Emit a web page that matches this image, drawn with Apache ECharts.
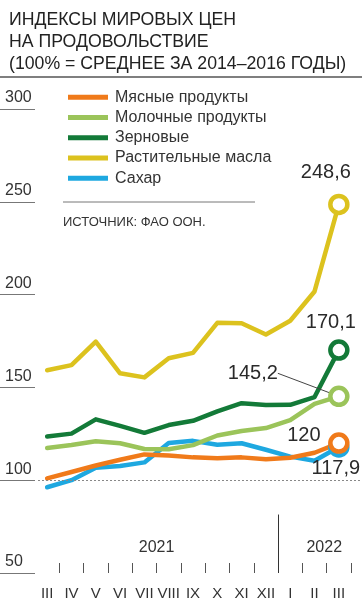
<!DOCTYPE html>
<html>
<head>
<meta charset="utf-8">
<script src="https://cdn.jsdelivr.net/npm/echarts@6/dist/echarts.min.js"></script>
<style>
html,body{margin:0;padding:0;background:#fff;}
#c{width:362px;height:604px;}
</style>
</head>
<body>
<div id="c"></div>
<script>
// ---- data ----
const months = ['III','IV','V','VI','VII','VIII','IX','X','XI','XII','I','II','III'];
const seriesNames = ['Мясные продукты','Молочные продукты','Зерновые','Растительные масла','Сахар'];
const meat    = [101.0,104.4,107.9,111.0,113.9,113.3,112.3,111.8,112.3,111.3,112.1,114.8,120.0];
const dairy   = [117.4,119.0,121.0,119.9,116.8,116.7,118.9,124.1,126.5,128.1,132.4,141.1,145.2];
const cereals = [123.6,125.1,132.8,129.3,125.5,129.7,132.0,137.1,141.5,140.5,140.6,144.8,170.1];
const oils    = [159.2,162.0,174.7,157.6,155.4,165.7,168.6,184.8,184.6,178.5,185.9,201.7,248.6];
const sugar   = [96.2,100.0,106.7,107.7,109.6,120.1,121.2,119.1,119.9,116.4,112.7,110.5,117.9];
const endLabels = ['120','145,2','170,1','248,6','117,9'];
const yearLabels = ['2021','2022'];
const yearPos = [5, 11.9];      // position along month scale
const yearDivider = 10;         // boundary between XII and I

const F = "'Liberation Sans', Arial, sans-serif";
const colors = ['#f07a1a','#9bc45a','#137a38','#dcc21e','#1ea8e0'];
const values = [meat,dairy,cereals,oils,sugar];
const labelOffsets = [[-35,-8],[0,0],[-8,-28],[-13,-32],[-3,22]];

function mkSeries(i){
  const arr = values[i];
  const last = arr.length-1;
  const data = arr.map((v,k)=>{
    if(k!==last) return v;
    return {
      value:v, symbol:'circle', symbolSize:17,
      itemStyle:{color:'#fff', borderColor:colors[i], borderWidth:4.5},
      label:{show:true, formatter:endLabels[i], position:'inside', offset:labelOffsets[i],
             fontFamily:F, fontSize:20, color:'#2a2a2a'}
    };
  });
  const s = {
    name:seriesNames[i], type:'line', data:data,
    xAxisIndex:0, yAxisIndex:0,
    symbol:'none', showSymbol:true,
    lineStyle:{color:colors[i], width:4.5, cap:'round', join:'round'},
    itemStyle:{color:colors[i]},
    label:{show:false},
    emphasis:{disabled:true},
    animation:false
  };
  if(i===1){
    s.labelLayout = {dx:-86, dy:-23};
    s.labelLine = {show:true, lineStyle:{color:'#444', width:1}};
  }
  return s;
}

const chart = echarts.init(document.getElementById('c'), null, {renderer:'canvas'});
const order = [4,0,1,2,3];
const series = order.map(mkSeries);

// helper series: year divider & year labels on a linear month scale
series.push({
  type:'line', xAxisIndex:1, yAxisIndex:0, data:[], silent:true,
  markLine:{
    silent:true, symbol:'none', label:{show:false},
    lineStyle:{color:'#333', width:1, type:'solid'},
    data:[[{coord:[yearDivider,50]},{coord:[yearDivider,81.5]}]]
  },
  markPoint:{
    silent:true, symbol:'circle', symbolSize:0,
    label:{show:true, position:'inside', fontFamily:F, fontSize:16, color:'#333',
           formatter:p=>p.name},
    data: yearLabels.map((t,k)=>({name:t, coord:[yearPos[k],63.5]}))
  }
});
// dotted 100 line in a helper grid reaching the right edge
series.push({
  type:'line', xAxisIndex:2, yAxisIndex:1, data:[], silent:true,
  markLine:{
    silent:true, symbol:'none', label:{show:false},
    lineStyle:{color:'#888', width:1, type:[2,2]},
    data:[{yAxis:100}]
  }
});

chart.setOption({
  backgroundColor:'#fff',
  animation:false,
  color:colors,
  title:{
    text:'ИНДЕКСЫ МИРОВЫХ ЦЕН\nНА ПРОДОВОЛЬСТВИЕ\n(100% = СРЕДНЕЕ ЗА 2014–2016 ГОДЫ)',
    left:4, top:4,
    textStyle:{fontFamily:F, fontSize:17.7, fontWeight:'normal', color:'#222', lineHeight:22}
  },
  legend:{
    orient:'vertical', left:63, top:84,
    itemWidth:40, itemHeight:5, itemGap:4, icon:'rect',
    data:seriesNames,
    textStyle:{fontFamily:F, fontSize:16, color:'#333', lineHeight:16.3, padding:[0,0,0,2]},
    selectedMode:false
  },
  graphic:[
    {type:'line', shape:{x1:0,y1:77,x2:362,y2:77}, style:{stroke:'#555', lineWidth:1.5}},
    {type:'line', shape:{x1:63,y1:202,x2:255,y2:202}, style:{stroke:'#777', lineWidth:1}},
    {type:'text', left:63, top:216, style:{text:'ИСТОЧНИК: ФАО ООН.', font:'13px '+F, fill:'#333'}}
  ],
  grid:[
    {left:35, right:11, top:109, bottom:31},
    {left:38, right:0, top:109, bottom:31}
  ],
  xAxis:[
    {type:'category', gridIndex:0, data:months, boundaryGap:true,
     axisLine:{show:false},
     axisTick:{show:true, inside:true, length:10, interval:(idx)=>idx>0, lineStyle:{color:'#555', width:1}},
     axisLabel:{interval:0, margin:13, fontFamily:F, fontSize:15, color:'#333'}},
    {type:'value', gridIndex:0, min:0, max:13, show:false},
    {type:'value', gridIndex:1, min:0, max:1, show:false}
  ],
  yAxis:[
    {type:'value', gridIndex:0, min:50, max:300, interval:50,
     axisLine:{show:false}, splitLine:{show:false},
     axisTick:{show:true, length:35, lineStyle:{color:'#777', width:1.2}},
     axisLabel:{show:true, align:'left', verticalAlign:'bottom', margin:30, padding:[0,0,3,0],
                showMinLabel:true, showMaxLabel:true,
                fontFamily:F, fontSize:16, color:'#333'}},
    {type:'value', gridIndex:1, min:50, max:300, show:false}
  ],
  series:series
});
</script>
</body>
</html>
